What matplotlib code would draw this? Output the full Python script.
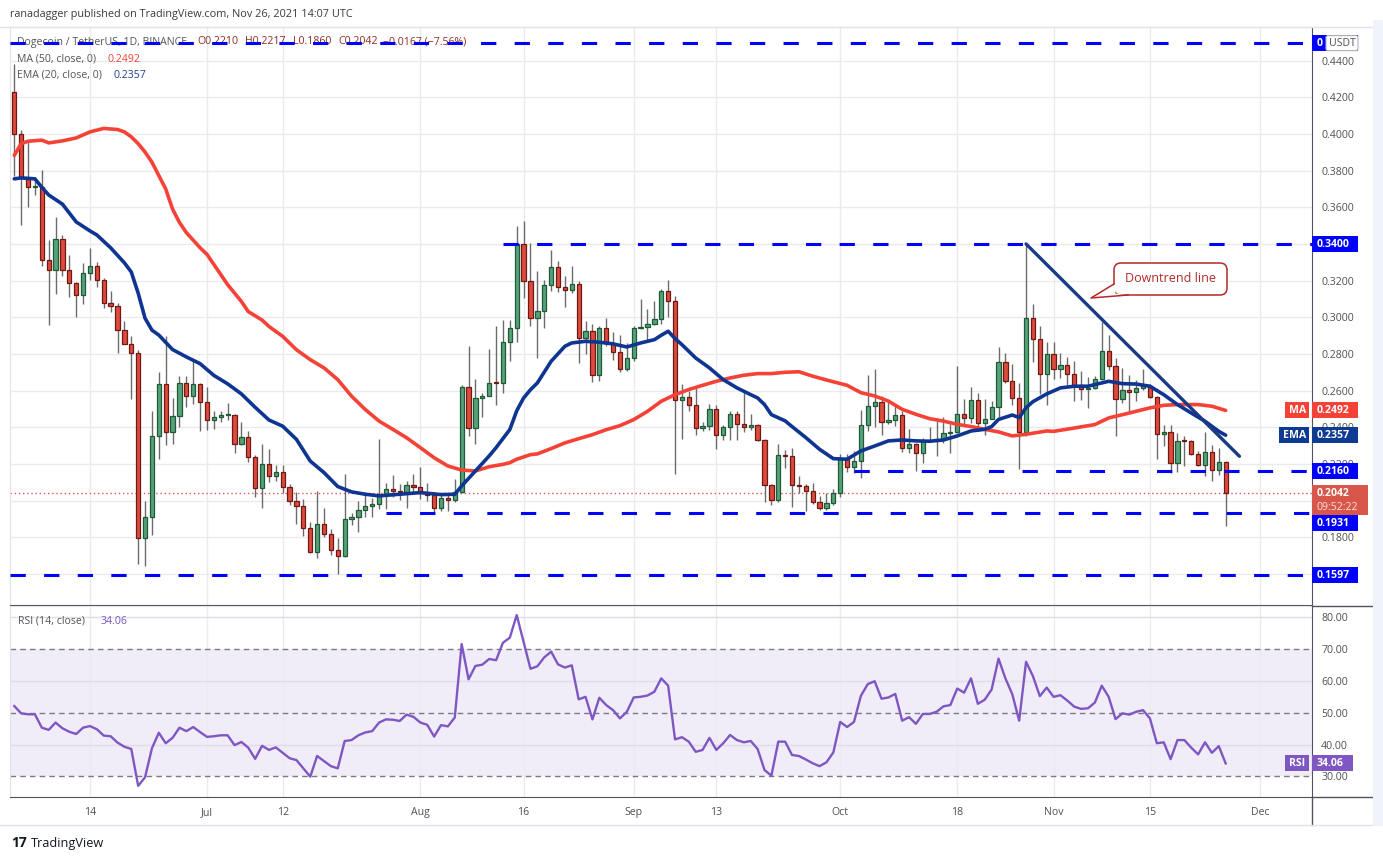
import numpy as np
import pandas as pd
import matplotlib
matplotlib.use("Agg")
import matplotlib.pyplot as plt
from matplotlib.patches import Rectangle, FancyBboxPatch, Polygon
from matplotlib.ticker import FuncFormatter

plt.rcParams['font.family'] = ['Open Sans', 'DejaVu Sans']

# ---------------- data ----------------
DATES = pd.date_range('2021-06-03', '2021-11-26', freq='D')

OPEN = [0.4231, 0.4002, 0.3758, 0.3711, 0.3713, 0.3315, 0.3257, 0.3429, 0.3260, 0.3185,
        0.3119, 0.3240, 0.3280, 0.3202, 0.3077, 0.3059, 0.2930, 0.2857, 0.2806, 0.1795,
        0.1912, 0.2352, 0.2637, 0.2377, 0.2461, 0.2643, 0.2573, 0.2637, 0.2540, 0.2440,
        0.2454, 0.2467, 0.2469, 0.2311, 0.2346, 0.2240, 0.2069, 0.2200, 0.2135, 0.2158,
        0.2077, 0.1999, 0.1971, 0.1853, 0.1718, 0.1872, 0.1817, 0.1732, 0.1700, 0.1902,
        0.1913, 0.1948, 0.1971, 0.1980, 0.2035, 0.2062, 0.2053, 0.2048, 0.2087, 0.2077,
        0.2044, 0.2033, 0.1962, 0.2017, 0.2004, 0.2049, 0.2620, 0.2397, 0.2561, 0.2573,
        0.2642, 0.2640, 0.2865, 0.2941, 0.3400, 0.3196, 0.2996, 0.3033, 0.3176, 0.3275,
        0.3165, 0.3149, 0.3182, 0.2887, 0.2925, 0.2687, 0.2942, 0.2860, 0.2811, 0.2718,
        0.2778, 0.2942, 0.2947, 0.2965, 0.2993, 0.3145, 0.3091, 0.2551, 0.2565, 0.2520,
        0.2396, 0.2409, 0.2500, 0.2356, 0.2402, 0.2473, 0.2418, 0.2402, 0.2413, 0.2329,
        0.2087, 0.2002, 0.2247, 0.2245, 0.2086, 0.2080, 0.2050, 0.1995, 0.1961, 0.1986,
        0.2041, 0.2226, 0.2184, 0.2217, 0.2414, 0.2518, 0.2540, 0.2429, 0.2442, 0.2469,
        0.2289, 0.2311, 0.2262, 0.2326, 0.2329, 0.2338, 0.2371, 0.2373, 0.2474, 0.2453,
        0.2549, 0.2425, 0.2447, 0.2512, 0.2757, 0.2652, 0.2561, 0.2376, 0.2997, 0.2883,
        0.2692, 0.2800, 0.2718, 0.2740, 0.2691, 0.2629, 0.2609, 0.2616, 0.2664, 0.2818,
        0.2733, 0.2555, 0.2606, 0.2593, 0.2615, 0.2627, 0.2566, 0.2364, 0.2375, 0.2206,
        0.2327, 0.2325, 0.2255, 0.2193, 0.2267, 0.2166, 0.2209]
HIGH = [0.4380, 0.4020, 0.3956, 0.3764, 0.3801, 0.3420, 0.3548, 0.3449, 0.3339, 0.3192,
        0.3297, 0.3377, 0.3304, 0.3214, 0.3141, 0.3077, 0.2982, 0.2897, 0.2821, 0.2000,
        0.2491, 0.2701, 0.2899, 0.2559, 0.2679, 0.2679, 0.2760, 0.2640, 0.2619, 0.2491,
        0.2491, 0.2531, 0.2470, 0.2427, 0.2382, 0.2250, 0.2308, 0.2280, 0.2193, 0.2193,
        0.2090, 0.2047, 0.2008, 0.1884, 0.2051, 0.1959, 0.1844, 0.1799, 0.2144, 0.1935,
        0.1997, 0.2044, 0.2017, 0.2334, 0.2095, 0.2138, 0.2089, 0.2107, 0.2144, 0.2183,
        0.2098, 0.2049, 0.2035, 0.2044, 0.2120, 0.2628, 0.2842, 0.2666, 0.2588, 0.2829,
        0.2950, 0.2987, 0.2987, 0.3498, 0.3524, 0.3405, 0.3255, 0.3202, 0.3369, 0.3305,
        0.3224, 0.3282, 0.3200, 0.2982, 0.2964, 0.2955, 0.2996, 0.2920, 0.2905, 0.2860,
        0.2955, 0.3102, 0.3047, 0.3091, 0.3156, 0.3202, 0.3118, 0.2638, 0.2596, 0.2624,
        0.2429, 0.2529, 0.2520, 0.2415, 0.2487, 0.2487, 0.2600, 0.2473, 0.2420, 0.2335,
        0.2090, 0.2307, 0.2277, 0.2289, 0.2135, 0.2090, 0.2095, 0.2026, 0.2044, 0.2062,
        0.2257, 0.2253, 0.2271, 0.2492, 0.2683, 0.2719, 0.2571, 0.2549, 0.2525, 0.2489,
        0.2393, 0.2316, 0.2344, 0.2404, 0.2434, 0.2458, 0.2416, 0.2734, 0.2552, 0.2621,
        0.2585, 0.2552, 0.2543, 0.2837, 0.2806, 0.2743, 0.2640, 0.3405, 0.3075, 0.2955,
        0.2866, 0.2866, 0.2806, 0.2782, 0.2760, 0.2706, 0.2673, 0.2678, 0.2973, 0.2906,
        0.2778, 0.2724, 0.2687, 0.2660, 0.2718, 0.2638, 0.2569, 0.2415, 0.2415, 0.2369,
        0.2351, 0.2333, 0.2269, 0.2373, 0.2306, 0.2287, 0.2217]
LOW = [0.3773, 0.3504, 0.3599, 0.3667, 0.3279, 0.2958, 0.3126, 0.3227, 0.3110, 0.3004,
       0.3073, 0.3205, 0.3165, 0.3053, 0.3031, 0.2806, 0.2855, 0.2555, 0.1655, 0.1644,
       0.1813, 0.2225, 0.2305, 0.2311, 0.2403, 0.2509, 0.2527, 0.2381, 0.2386, 0.2390,
       0.2429, 0.2440, 0.2262, 0.2303, 0.2212, 0.2020, 0.1960, 0.2102, 0.2107, 0.2044,
       0.1975, 0.1872, 0.1808, 0.1715, 0.1687, 0.1803, 0.1703, 0.1600, 0.1691, 0.1866,
       0.1830, 0.1913, 0.1913, 0.1953, 0.1957, 0.2022, 0.2002, 0.1962, 0.2044, 0.2011,
       0.2000, 0.1935, 0.1944, 0.1944, 0.1990, 0.2044, 0.2352, 0.2307, 0.2457, 0.2570,
       0.2521, 0.2585, 0.2760, 0.2863, 0.3105, 0.2951, 0.2778, 0.2942, 0.3142, 0.3138,
       0.3055, 0.3133, 0.2751, 0.2800, 0.2647, 0.2655, 0.2842, 0.2765, 0.2702, 0.2705,
       0.2760, 0.2936, 0.2878, 0.2960, 0.2964, 0.3000, 0.2146, 0.2338, 0.2487, 0.2356,
       0.2378, 0.2387, 0.2282, 0.2333, 0.2333, 0.2329, 0.2373, 0.2387, 0.2327, 0.1993,
       0.1978, 0.1995, 0.2180, 0.1966, 0.2044, 0.1944, 0.1981, 0.1950, 0.1950, 0.1975,
       0.2022, 0.2157, 0.2153, 0.2126, 0.2380, 0.2402, 0.2358, 0.2416, 0.2407, 0.2266,
       0.2258, 0.2162, 0.2208, 0.2318, 0.2244, 0.2316, 0.2258, 0.2371, 0.2407, 0.2425,
       0.2380, 0.2356, 0.2443, 0.2458, 0.2643, 0.2522, 0.2171, 0.2353, 0.2756, 0.2580,
       0.2520, 0.2664, 0.2669, 0.2633, 0.2542, 0.2547, 0.2506, 0.2609, 0.2656, 0.2715,
       0.2351, 0.2533, 0.2487, 0.2542, 0.2606, 0.2560, 0.2227, 0.2296, 0.2151, 0.2156,
       0.2187, 0.2251, 0.2190, 0.2137, 0.2106, 0.2138, 0.1860]
CLOSE = [0.4002, 0.3758, 0.3711, 0.3713, 0.3315, 0.3257, 0.3429, 0.3260, 0.3185, 0.3119,
         0.3240, 0.3280, 0.3202, 0.3077, 0.3059, 0.2930, 0.2857, 0.2806, 0.1795, 0.1912,
         0.2352, 0.2637, 0.2377, 0.2461, 0.2643, 0.2573, 0.2637, 0.2540, 0.2440, 0.2454,
         0.2467, 0.2469, 0.2311, 0.2346, 0.2240, 0.2069, 0.2200, 0.2135, 0.2158, 0.2077,
         0.1999, 0.1971, 0.1853, 0.1718, 0.1872, 0.1817, 0.1732, 0.1700, 0.1902, 0.1913,
         0.1948, 0.1971, 0.1980, 0.2035, 0.2062, 0.2053, 0.2048, 0.2087, 0.2077, 0.2044,
         0.2033, 0.1962, 0.2017, 0.2004, 0.2049, 0.2620, 0.2397, 0.2561, 0.2573, 0.2642,
         0.2640, 0.2865, 0.2941, 0.3400, 0.3196, 0.2996, 0.3033, 0.3176, 0.3275, 0.3165,
         0.3149, 0.3182, 0.2887, 0.2925, 0.2687, 0.2942, 0.2860, 0.2811, 0.2718, 0.2778,
         0.2942, 0.2947, 0.2965, 0.2993, 0.3145, 0.3091, 0.2551, 0.2565, 0.2520, 0.2396,
         0.2409, 0.2500, 0.2356, 0.2402, 0.2473, 0.2418, 0.2402, 0.2413, 0.2329, 0.2087,
         0.2002, 0.2247, 0.2245, 0.2086, 0.2080, 0.2050, 0.1995, 0.1961, 0.1986, 0.2041,
         0.2226, 0.2184, 0.2217, 0.2414, 0.2518, 0.2540, 0.2429, 0.2442, 0.2469, 0.2289,
         0.2311, 0.2262, 0.2326, 0.2329, 0.2338, 0.2371, 0.2373, 0.2474, 0.2453, 0.2549,
         0.2425, 0.2447, 0.2512, 0.2757, 0.2652, 0.2561, 0.2376, 0.2997, 0.2883, 0.2692,
         0.2800, 0.2718, 0.2740, 0.2691, 0.2629, 0.2609, 0.2616, 0.2664, 0.2818, 0.2733,
         0.2555, 0.2606, 0.2593, 0.2615, 0.2627, 0.2566, 0.2364, 0.2375, 0.2206, 0.2327,
         0.2325, 0.2255, 0.2193, 0.2267, 0.2166, 0.2209, 0.2042]

RSI = [52.1, 49.8, 49.5, 49.5, 45.3, 44.6, 46.9, 45.1, 44.0, 43.3,
       45.3, 45.8, 44.8, 42.8, 42.6, 40.6, 39.3, 38.6, 27.0, 29.7,
       38.8, 43.7, 40.4, 42.1, 45.3, 44.2, 45.5, 43.9, 42.4, 42.6,
       42.9, 42.9, 39.8, 40.8, 39.0, 35.5, 39.6, 38.3, 39.1, 37.4,
       35.7, 35.1, 32.5, 29.9, 36.4, 34.8, 33.2, 32.5, 41.1, 41.4,
       42.9, 43.8, 44.2, 46.9, 47.9, 47.8, 47.4, 49.4, 48.7, 46.9,
       46.2, 42.5, 46.1, 45.7, 48.5, 71.6, 60.5, 64.7, 65.1, 66.9,
       66.5, 72.0, 73.6, 80.7, 72.3, 63.8, 64.6, 67.4, 69.2, 65.2,
       64.2, 64.9, 54.2, 55.0, 47.9, 54.7, 52.4, 50.8, 48.2, 50.3,
       54.8, 55.0, 55.4, 56.6, 60.8, 58.5, 41.6, 42.3, 40.9, 37.7,
       38.3, 42.1, 38.3, 40.4, 43.0, 41.4, 40.7, 41.1, 38.6, 32.0,
       30.2, 40.9, 40.9, 36.7, 36.4, 35.3, 34.1, 33.2, 34.4, 37.5,
       47.1, 45.5, 47.1, 55.3, 59.0, 59.9, 54.4, 54.8, 55.9, 47.5,
       48.6, 46.5, 49.6, 49.6, 50.3, 52.0, 52.4, 57.6, 56.3, 60.8,
       52.8, 54.1, 57.3, 67.0, 60.8, 55.8, 47.5, 66.0, 61.5, 55.2,
       57.9, 55.0, 55.5, 53.8, 51.9, 51.2, 51.4, 53.2, 58.5, 55.0,
       48.0, 49.8, 49.4, 50.3, 50.8, 48.2, 40.4, 40.7, 35.4, 41.4,
       41.4, 39.0, 36.9, 40.7, 37.4, 39.5, 34.06]

MA50_DAY = [0, 1, 2, 4, 5, 7, 9, 11, 13, 15, 16, 17, 18, 19, 20, 21, 22, 23, 24, 25,
            27, 28, 29, 31, 33, 34, 36, 37, 39, 41, 43, 45, 47, 49, 51, 53, 55, 57, 59, 61,
            63, 65, 67, 69, 71, 72, 73, 75, 76, 78, 80, 82, 84, 86, 88, 90, 92, 94, 96, 98,
            100, 102, 104, 106, 108, 110, 112, 114, 116, 118, 121, 123, 125, 127, 129, 131,
            133, 135, 137, 139, 141, 143, 145, 147, 150, 151, 154, 157, 159, 162, 165, 167,
            169, 172, 174, 176]
MA50_VAL = [0.3883, 0.3947, 0.3960, 0.3966, 0.3951, 0.3962, 0.3978, 0.4011, 0.4030, 0.4024,
            0.4011, 0.3984, 0.3947, 0.3901, 0.3846, 0.3773, 0.3700, 0.3590, 0.3517, 0.3462,
            0.3379, 0.3343, 0.3288, 0.3178, 0.3086, 0.3031, 0.2985, 0.2950, 0.2896, 0.2823,
            0.2769, 0.2724, 0.2660, 0.2570, 0.2497, 0.2434, 0.2389, 0.2343, 0.2289, 0.2234,
            0.2189, 0.2167, 0.2162, 0.2185, 0.2198, 0.2207, 0.2226, 0.2251, 0.2255, 0.2284,
            0.2315, 0.2338, 0.2360, 0.2387, 0.2409, 0.2442, 0.2487, 0.2542, 0.2578, 0.2606,
            0.2629, 0.2651, 0.2669, 0.2684, 0.2693, 0.2693, 0.2700, 0.2703, 0.2679, 0.2658,
            0.2629, 0.2589, 0.2571, 0.2543, 0.2498, 0.2471, 0.2447, 0.2434, 0.2416, 0.2404,
            0.2389, 0.2375, 0.2353, 0.2362, 0.2380, 0.2378, 0.2396, 0.2415, 0.2451, 0.2478,
            0.2506, 0.2520, 0.2524, 0.2524, 0.2515, 0.2492]

EMA20_DAY = [0, 1, 3, 4, 5, 7, 9, 11, 12, 14, 16, 17, 18, 19, 20, 21, 23, 25, 27, 29,
             31, 33, 35, 37, 39, 41, 43, 45, 47, 49, 51, 53, 56, 59, 62, 64, 65, 67, 69, 70,
             72, 73, 74, 75, 76, 78, 80, 81, 83, 85, 87, 89, 91, 93, 94, 95, 96, 97, 99, 101,
             103, 105, 107, 108, 109, 110, 112, 113, 115, 117, 119, 121, 123, 125, 127, 129,
             131, 133, 135, 137, 139, 141, 142, 143, 145, 146, 147, 148, 150, 152, 154, 156,
             158, 159, 161, 163, 165, 167, 169, 171, 173, 175, 176]
EMA20_VAL = [0.3755, 0.3760, 0.3755, 0.3709, 0.3667, 0.3617, 0.3520, 0.3471, 0.3449, 0.3379,
             0.3297, 0.3247, 0.3132, 0.2995, 0.2930, 0.2903, 0.2824, 0.2784, 0.2747, 0.2683,
             0.2637, 0.2582, 0.2509, 0.2440, 0.2406, 0.2334, 0.2216, 0.2153, 0.2077, 0.2048,
             0.2035, 0.2026, 0.2035, 0.2044, 0.2033, 0.2035, 0.2080, 0.2162, 0.2244, 0.2289,
             0.2388, 0.2490, 0.2560, 0.2605, 0.2642, 0.2760, 0.2842, 0.2860, 0.2869, 0.2864,
             0.2855, 0.2838, 0.2860, 0.2878, 0.2902, 0.2924, 0.2884, 0.2851, 0.2778, 0.2724,
             0.2660, 0.2615, 0.2578, 0.2560, 0.2524, 0.2469, 0.2435, 0.2404, 0.2344, 0.2280,
             0.2229, 0.2226, 0.2271, 0.2298, 0.2326, 0.2331, 0.2326, 0.2324, 0.2331, 0.2353,
             0.2380, 0.2389, 0.2404, 0.2443, 0.2467, 0.2453, 0.2507, 0.2540, 0.2582, 0.2615,
             0.2624, 0.2624, 0.2642, 0.2651, 0.2638, 0.2636, 0.2624, 0.2578, 0.2524, 0.2478,
             0.2433, 0.2378, 0.2357]

LEVEL_PRICES = [0.4495, 0.3400, 0.2160, 0.1931, 0.1597]
LEVEL_FROM = [None, '2021-08-13', '2021-10-03', '2021-07-27', None]
TREND_DATES = ['2021-10-28', '2021-11-28']
TREND_PRICES = [0.3400, 0.2242]

TICK_DATES = ['2021-06-14', '2021-07-01', '2021-07-12', '2021-08-01', '2021-08-16', '2021-09-01',
              '2021-09-13', '2021-10-01', '2021-10-18', '2021-11-01', '2021-11-15', '2021-12-01']
TICK_LABELS = ['14', 'Jul', '12', 'Aug', '16', 'Sep', '13', 'Oct', '18', 'Nov', '15', 'Dec']
PRICE_TICKS = [0.16, 0.18, 0.20, 0.22, 0.24, 0.26, 0.28, 0.30, 0.32, 0.34, 0.36, 0.38, 0.40, 0.42, 0.44]
HIDDEN_PRICE_LABELS = [0.16, 0.20, 0.34]   # covered by the level / price boxes in the reference

LAST_PRICE = 0.2042
MA_LAST, EMA_LAST, RSI_LAST = 0.2492, 0.2357, 34.06

# ---------------- helpers ----------------
def day(d):
    return (pd.Timestamp(d) - DATES[0]).days

W, H = 1383, 860
fig = plt.figure(figsize=(W / 100, H / 100), dpi=100, facecolor='white')
AX_L, AX_R = 10, 1311.7
ax = fig.add_axes([AX_L / W, 1 - 605 / H, (AX_R - AX_L) / W, (605 - 27) / H])
rax = fig.add_axes([AX_L / W, 1 - 797 / H, (AX_R - AX_L) / W, (797 - 606) / H])
ov = fig.add_axes([0, 0, 1, 1], zorder=20)
ov.set_xlim(0, W)
ov.set_ylim(H, 0)
ov.axis('off')
ov.patch.set_alpha(0)

XMIN, XMAX = -0.62, 188.5
x = np.arange(len(DATES))
o, h, l, c = map(np.array, (OPEN, HIGH, LOW, CLOSE))

# ---------------- price panel ----------------
ax.set_xlim(XMIN, XMAX)
ax.set_ylim(0.1431, 0.4583)
ax.set_yticks(PRICE_TICKS)
ax.yaxis.tick_right()

def price_fmt(v, p):
    if any(abs(v - hv) < 1e-6 for hv in HIDDEN_PRICE_LABELS):
        return ''
    return f'{v:.4f}'

ax.yaxis.set_major_formatter(FuncFormatter(price_fmt))
ax.tick_params(axis='y', length=0, pad=6.8, labelsize=7.6, labelcolor='#505050')
tick_pos = [day(d) for d in TICK_DATES]
ax.set_xticks(tick_pos)
ax.tick_params(axis='x', length=0, labelbottom=False)
ax.grid(True, color='#ebebee', lw=1, zorder=0)
ax.set_axisbelow(True)
for s in ('top', 'left'):
    ax.spines[s].set_color('#e0e3eb')
for s in ('right', 'bottom'):
    ax.spines[s].set_color('#50535e')

up = c >= o
face = np.where(up, '#58a27b', '#dc4b3d')
edge = np.where(up, '#1e5a36', '#6e1a12')
ax.vlines(x, l, h, color='#6b6b6b', lw=1, zorder=3)
ax.bar(x, np.maximum(np.abs(c - o), 0.0006), bottom=np.minimum(o, c), width=0.62,
       color=face, edgecolor=edge, linewidth=0.9, zorder=4)

ax.plot(MA50_DAY, MA50_VAL, color='#f44336', lw=2.6, zorder=5, solid_capstyle='round', solid_joinstyle='round')
ax.plot(EMA20_DAY, EMA20_VAL, color='#0e3591', lw=2.6, zorder=5, solid_capstyle='round', solid_joinstyle='round')

for p, start in zip(LEVEL_PRICES, LEVEL_FROM):
    x0 = XMIN if start is None else day(start)
    ax.hlines(p, x0, XMAX, color='#0000ff', lw=2.2, linestyles=[(0, (5, 6))], zorder=6)

ax.axhline(LAST_PRICE, color='#ef5350', lw=1, linestyle=(0, (1, 2)), zorder=2)
ax.plot([day(d) for d in TREND_DATES], TREND_PRICES, color='#1a3a85', lw=2.4, zorder=6,
        solid_capstyle='round')

# ---------------- RSI panel ----------------
rax.set_xlim(XMIN, XMAX)
rax.set_ylim(23.5, 83.55)
rax.axhspan(30, 70, color='#7e57c2', alpha=0.1, lw=0, zorder=0)
for v in (40, 60, 80):
    rax.axhline(v, color='#e0dde8', lw=1, zorder=1)
for v in (30, 50, 70):
    rax.axhline(v, color='#787b86', lw=1, linestyle=(0, (4, 3)), zorder=1)
rax.set_xticks(tick_pos)
rax.set_xticklabels(TICK_LABELS)
rax.grid(True, axis='x', color='#ebebee', lw=1, zorder=0)
rax.set_axisbelow(True)
rax.yaxis.tick_right()
rax.set_yticks([30, 40, 50, 60, 70, 80])
rax.yaxis.set_major_formatter(FuncFormatter(lambda v, p: f'{v:.2f}'))
rax.tick_params(axis='y', length=0, pad=6.8, labelsize=7.6, labelcolor='#505050')
rax.tick_params(axis='x', length=0, pad=7, labelsize=7.6, labelcolor='#505050')
rax.plot(x, RSI, color='#7e57c2', lw=1.7, zorder=3)
for s in ('top', 'left'):
    rax.spines[s].set_color('#e0e3eb')
for s in ('right', 'bottom'):
    rax.spines[s].set_color('#50535e')

# ---------------- overlay: labels / boxes ----------------
def py(axis, v):
    return H - axis.transData.transform((0, v))[1]

BOX_X0, BOX_X1, BOX_H = AX_R + 0.5, 1358, 16
FS = 7.6

def vbox(yc, text, fc, x0=BOX_X0, x1=BOX_X1, hgt=BOX_H, tc='white'):
    ov.add_patch(Rectangle((x0, yc - hgt / 2), x1 - x0, hgt, fc=fc, ec='none', zorder=21))
    ov.text(x0 + 4, yc + 0.5, text, ha='left', va='center', color=tc, fontsize=FS,
            fontweight='bold', zorder=22)

BLUE = '#0000ff'
y_top = py(ax, LEVEL_PRICES[0])
vbox(y_top, '0', BLUE)
ov.add_patch(FancyBboxPatch((1326, y_top - 7.5), 32, 15, boxstyle='round,pad=0,rounding_size=2',
                            fc='white', ec='#b2b5be', lw=0.8, zorder=23))
ov.text(1342, y_top + 0.5, 'USDT', ha='center', va='center', color='#505050', fontsize=FS, zorder=24)
vbox(py(ax, 0.3400), '0.3400', BLUE)

RED_MA = '#f44336'
NAVY = '#0f3a94'
y_ma = py(ax, MA_LAST)
vbox(y_ma, f'{MA_LAST:.4f}', RED_MA)
vbox(y_ma, 'MA', RED_MA, x0=1285, x1=AX_R - 2.5)
y_ema = py(ax, EMA_LAST)
vbox(y_ema, f'{EMA_LAST:.4f}', NAVY)
vbox(y_ema, 'EMA', NAVY, x0=1279, x1=AX_R - 2.5)

vbox(py(ax, 0.2160), '0.2160', BLUE)

y_last = py(ax, LAST_PRICE)
ov.add_patch(Rectangle((BOX_X0, y_last - 7.5), 1368 - BOX_X0, 29.5, fc='#d9574a', ec='none', zorder=21))
ov.text(BOX_X0 + 4, y_last + 0.5, f'{LAST_PRICE:.4f}', ha='left', va='center', color='white',
        fontsize=FS, fontweight='bold', zorder=22)
ov.text(BOX_X0 + 4, y_last + 14.5, '09:52:22', ha='left', va='center', color='#fbe3df',
        fontsize=FS, zorder=22)

y_1931 = max(py(ax, 0.1931), y_last + 22 + BOX_H / 2)
vbox(y_1931, '0.1931', BLUE)
vbox(py(ax, 0.1597), '0.1597', BLUE)

PURPLE = '#7e57c2'
y_rsi = py(rax, RSI_LAST)
vbox(y_rsi, f'{RSI_LAST:.2f}', PURPLE, x1=1353)
vbox(y_rsi, 'RSI', PURPLE, x0=1285, x1=AX_R - 2.5)

# header texts (drawn beneath the level lines)
TXT = dict(transform=ov.transData, va='center', clip_on=False, zorder=1)
fig.text(10 / W, 1 - 15 / H, 'ranadagger published on TradingView.com, Nov 26, 2021 14:07 UTC',
         fontsize=7.8, color='#3b3b3b', va='center')
ax.text(17, 42, 'Dogecoin / TetherUS, 1D, BINANCE', fontsize=FS, color='#555555', **TXT)
for xx, s in [(197, 'O0.2210'), (245, 'H0.2217'), (293, 'L0.1860'), (338, 'C0.2042'),
              (383, '\u22120.0167 (\u22127.56%)')]:
    ax.text(xx, 42, s, fontsize=FS, color='#8e2c24', **TXT)
ax.text(17, 59, 'MA (50, close, 0)', fontsize=FS, color='#555555', **TXT)
ax.text(108, 59, f'{MA_LAST:.4f}', fontsize=FS, color=RED_MA, **TXT)
ax.text(17, 75, 'EMA (20, close, 0)', fontsize=FS, color='#555555', **TXT)
ax.text(114, 75, f'{EMA_LAST:.4f}', fontsize=FS, color='#1c3f94', **TXT)
rax.text(18, 621, 'RSI (14, close)', fontsize=FS, color='#555555', **TXT)
rax.text(101, 621, f'{RSI_LAST:.2f}', fontsize=FS, color=PURPLE, **TXT)

# downtrend callout
ov.add_patch(FancyBboxPatch((1114, 263), 113, 32, boxstyle='round,pad=0,rounding_size=7',
                            fc='white', ec='#b22a2a', lw=1.1, zorder=21))
ov.add_patch(Polygon([(1115.5, 284), (1091, 298), (1128, 293.8), (1115.5, 293.8)],
                     closed=True, fc='white', ec='none', zorder=22))
ov.plot([1114, 1091, 1128], [284, 298, 295], color='#b22a2a', lw=1.1, zorder=23)
ov.text(1170.5, 279, 'Downtrend line', ha='center', va='center', color='#b22a2a', fontsize=9, zorder=24)

# frame pieces
ov.plot([0, 1373], [27, 27], color='#e0e3eb', lw=1, zorder=19)
ov.plot([AX_R, AX_R], [797, 825], color='#50535e', lw=1, zorder=19)
ov.plot([AX_R, 1373], [605.5, 605.5], color='#50535e', lw=1, zorder=19)
ov.plot([AX_R, 1373], [797, 797], color='#50535e', lw=1, zorder=19)
ov.plot([0, 1373], [825, 825], color='#e0e3eb', lw=1, zorder=19)
ov.add_patch(Rectangle((1373, 20), 10, 806, fc='#f0f3fa', ec='none', zorder=19))

# TradingView logo
ov.text(11, 843, '17', ha='left', va='center', fontsize=10, fontweight='bold', color='#131722', zorder=22)
ov.text(31, 843, 'TradingView', ha='left', va='center', fontsize=9.2, color='#131722', zorder=22)

fig.savefig('out.png', dpi=100, facecolor='white')
